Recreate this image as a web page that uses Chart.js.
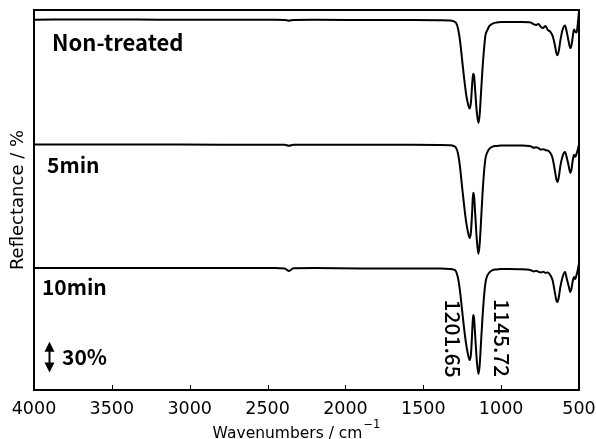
<!DOCTYPE html>
<html>
<head>
<meta charset="utf-8">
<script src="https://cdn.jsdelivr.net/npm/chart.js@4.4.1/dist/chart.umd.min.js"></script>
<style>
  html, body { margin: 0; padding: 0; background: #fff; }
  #wrap { width: 596px; height: 439px; }
</style>
</head>
<body>
<div id="wrap"><canvas id="chart" width="596" height="439"></canvas></div>
<script>
'use strict';

// wavenumber grid (cm-1), shared by the three spectra
const wavenumbers = [4000, 3600, 3200, 2800, 2450, 2390, 2362, 2335, 2200, 1900,
    1600, 1400, 1330, 1305, 1290, 1277, 1264, 1251, 1238, 1225,
    1212, 1202, 1194, 1186, 1180, 1174, 1166, 1156, 1146, 1138,
    1129, 1120, 1110, 1100, 1090, 1075, 1058, 1030, 1000, 950,
    880, 820, 805, 790, 775, 760, 745, 730, 715, 700,
    685, 670, 655, 645, 638, 630, 620, 605, 590, 578,
    566, 556, 548, 540, 532, 524, 516, 508, 500];

// reflectance (%)
const nonTreated = [100.6, 100.7, 100.6, 100.5, 100.5, 100.3, 99.6, 100.3, 100.4, 100.3,
    100.2, 100.0, 99.7, 99.0, 97.5, 92, 80, 62, 44, 28,
    18, 14, 20, 38, 48, 46, 30, 10, 0, 8,
    30, 52, 72, 86, 90, 94.5, 96.5, 97.8, 98.3, 98.4,
    98.3, 98.0, 97.5, 96.0, 95.5, 96.4, 93.5, 92.5, 94.4, 90.5,
    89, 85, 76, 68, 66, 70, 80, 91, 95, 88,
    79, 73, 76, 84, 91, 89, 88, 96, 109];

const treated5min = [99.0, 99.1, 99.0, 98.9, 98.9, 98.8, 97.8, 98.8, 98.9, 98.8,
    98.7, 98.6, 98.3, 97.6, 96, 90, 77, 58, 40, 24,
    13, 8, 14, 34, 52, 49, 30, 6, -7.5, 2,
    25, 50, 72, 86, 91, 95, 96.8, 97.6, 98.0, 98.1,
    98.0, 97.6, 97.0, 95.8, 96.3, 95.5, 94.0, 94.5, 93.5, 93.0,
    91, 86, 74, 65, 62.5, 67, 78, 88, 91.7, 86,
    78, 71.5, 75, 84, 89, 87, 90, 94, 99];

const treated10min = [98.8, 98.9, 98.9, 98.8, 98.8, 98.4, 95.9, 98.5, 98.7, 98.3,
    98.3, 98.2, 97.9, 97.2, 95.5, 89, 76, 58, 40, 25,
    14, 9.2, 15, 36, 53, 50, 31, 8, -4.4, 4,
    27, 50, 71, 85, 91, 94.5, 96.5, 97.4, 97.8, 97.8,
    97.6, 97.0, 96.4, 95.5, 96.0, 95.0, 94.5, 95.2, 94.0, 94.5,
    92, 87, 75, 67, 65.7, 70, 80, 90, 94.9, 88,
    81, 75.5, 79, 86, 90, 88, 92, 97, 103.7];

const seriesNames = ['Non-treated', '5min', '10min'];
const offsets = [260, 140, 20];          // vertical stacking of the spectra
const xTicks = [4000, 3500, 3000, 2500, 2000, 1500, 1000, 500];
const peakLabels = ['1201.65', '1145.72'];
const scaleBar = 30;                     // %

var spectra = [nonTreated, treated5min, treated10min];

var datasets = spectra.map(function (vals, i) {
    return {
        label: seriesNames[i],
        data: wavenumbers.map(function (w, k) {
            return {x: w, y: vals[k] + offsets[i]};
        }),
        borderColor: '#000',
        borderWidth: 2,
        pointRadius: 0,
        cubicInterpolationMode: 'monotone',
        fill: false
    };
});

// where the texts sit, in data units (wavenumber, stacked %)
var annot = {
    names: [[3884, 330], [3916, 211], [3949, 92.5]],
    peaks: [[1309, 88], [994, 88.6]],
    bar: [3904, 17],
    barText: [3820, 24.3]
};

var frame = {
    id: 'frame',
    afterDraw: function (chart) {
        var ctx = chart.ctx;
        var a = chart.chartArea;
        var x = chart.scales.x;
        var y = chart.scales.y;

        ctx.save();
        ctx.strokeStyle = '#000';

        // inward ticks
        ctx.lineWidth = 1;
        x.ticks.forEach(function (t) {
            var px = Math.round(x.getPixelForValue(t.value)) + 0.5;
            ctx.beginPath();
            ctx.moveTo(px, a.bottom);
            ctx.lineTo(px, a.bottom - 5);
            ctx.stroke();
        });

        // box
        ctx.lineWidth = 2;
        ctx.strokeRect(a.left, a.top, a.right - a.left, a.bottom - a.top);

        // series names
        ctx.fillStyle = '#000';
        ctx.textAlign = 'left';
        ctx.textBaseline = 'alphabetic';
        annot.names.forEach(function (p, i) {
            ctx.font = (i === 0 ? 'bold 22px' : 'bold 21px') + ' "Noto Sans CJK JP"';
            ctx.fillText(seriesNames[i], x.getPixelForValue(p[0]), y.getPixelForValue(p[1]));
        });

        // scale bar
        var bx = Math.round(x.getPixelForValue(annot.bar[0])) + 0.5;
        var b0 = y.getPixelForValue(annot.bar[1]);
        var b1 = y.getPixelForValue(annot.bar[1] + scaleBar);
        ctx.lineWidth = 2;
        ctx.beginPath();
        ctx.moveTo(bx, b0 - 6);
        ctx.lineTo(bx, b1 + 6);
        ctx.stroke();
        ctx.beginPath();
        ctx.moveTo(bx, b1);
        ctx.lineTo(bx - 5, b1 + 10);
        ctx.lineTo(bx + 5, b1 + 10);
        ctx.closePath();
        ctx.fill();
        ctx.beginPath();
        ctx.moveTo(bx, b0);
        ctx.lineTo(bx - 5, b0 - 10);
        ctx.lineTo(bx + 5, b0 - 10);
        ctx.closePath();
        ctx.fill();
        ctx.font = 'bold 21px "Noto Sans CJK JP"';
        ctx.fillText(scaleBar + '%', x.getPixelForValue(annot.barText[0]), y.getPixelForValue(annot.barText[1]));

        // peak positions, rotated
        ctx.font = '500 21px "Noto Sans CJK JP"';
        ctx.textBaseline = 'middle';
        annot.peaks.forEach(function (p, i) {
            ctx.save();
            ctx.translate(x.getPixelForValue(p[0]), y.getPixelForValue(p[1]));
            ctx.rotate(Math.PI / 2);
            ctx.fillText(peakLabels[i], 0, 0);
            ctx.restore();
        });

        // x title with superscript
        var main = 'Wavenumbers / cm';
        var sup = '\u22121';
        ctx.font = '15.5px "DejaVu Sans"';
        var w1 = ctx.measureText(main).width;
        ctx.font = '11.5px "DejaVu Sans"';
        var w2 = ctx.measureText(sup).width;
        var cx = (a.left + a.right) / 2 - 10;
        var sx = cx - (w1 + w2 + 1) / 2;
        ctx.textBaseline = 'alphabetic';
        ctx.font = '15.5px "DejaVu Sans"';
        ctx.fillText(main, sx, 438);
        ctx.font = '11.5px "DejaVu Sans"';
        ctx.fillText(sup, sx + w1 + 1, 428);

        ctx.restore();
    }
};

new Chart(document.getElementById('chart'), {
    type: 'line',
    data: {datasets: datasets},
    options: {
        responsive: false,
        animation: false,
        layout: {padding: {top: 10, right: 17, bottom: 0, left: 0}},
        plugins: {legend: {display: false}, tooltip: {enabled: false}},
        scales: {
            x: {
                type: 'linear',
                reverse: true,
                min: 500,
                max: 4000,
                grid: {display: false},
                border: {display: false},
                afterBuildTicks: function (scale) {
                    scale.ticks = xTicks.map(function (v) { return {value: v}; });
                },
                afterFit: function (scale) {
                    scale.height = 49;
                    scale.paddingLeft = 0;
                    scale.paddingRight = 0;
                },
                ticks: {
                    autoSkip: false,
                    maxRotation: 0,
                    padding: 1,
                    color: '#000',
                    font: {family: 'DejaVu Sans', size: 17.5},
                    callback: function (v) { return String(v); }
                }
            },
            y: {
                min: 0,
                max: 370,
                grid: {display: false},
                border: {display: false},
                ticks: {display: false},
                afterFit: function (scale) { scale.width = 34; },
                title: {
                    display: true,
                    text: 'Reflectance / %',
                    color: '#000',
                    font: {family: 'DejaVu Sans', size: 18},
                    padding: {top: 8, bottom: 0}
                }
            }
        }
    },
    plugins: [frame]
});
</script>
</body>
</html>
